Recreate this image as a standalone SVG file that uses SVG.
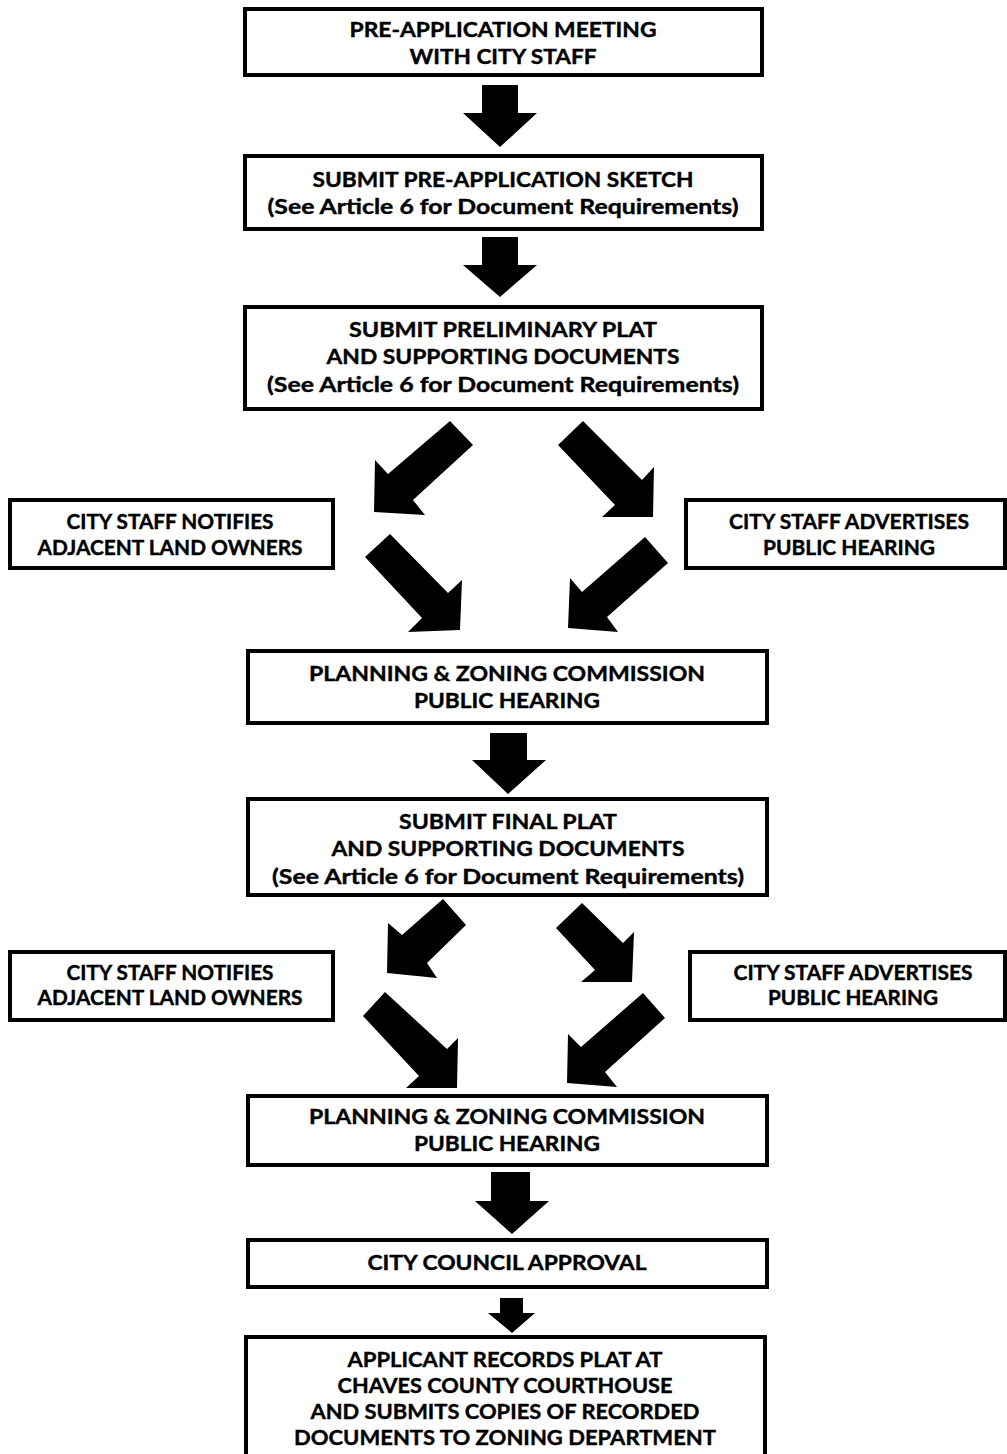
<svg xmlns="http://www.w3.org/2000/svg" width="1007" height="1454" viewBox="0 0 1007 1454">
<style>
.box{fill:#fff;stroke:#000;stroke-width:4}
.t{font-family:Lato,"Open Sans","Liberation Sans",sans-serif;font-weight:bold;font-size:21px;fill:#000;stroke:#000;stroke-width:0.4;text-anchor:middle}
.s{font-size:20px}
.arr{fill:#000}
</style>
<rect width="1007" height="1454" fill="#fff"/>
<g id="connectors">
<polygon class="arr" points="482,85 518,85 518,113 537,113 500,147 463,113 482,113"/>
<polygon class="arr" points="482,237 518,237 518,265 537,265 500,297 463,265 482,265"/>
<polygon class="arr" points="450,421 473,445 413,500 425,515 374,512 375,460 388,474"/>
<polygon class="arr" points="583,421 558,445 615,505 602,517 653,517 654,467 642,480"/>
<polygon class="arr" points="390,534 365,557 422,618 408,632 460,630 462,580 448,593"/>
<polygon class="arr" points="645,537 668,563 607,617 618,632 568,628 570,578 582,592"/>
<polygon class="arr" points="490,733 527,733 527,760 546,760 508,794 472,760 490,760"/>
<polygon class="arr" points="443,899 466,925 427,963 437,978 387,973 388,923 402,935"/>
<polygon class="arr" points="582,903 556,928 595,970 581,982 632,982 634,932 623,943"/>
<polygon class="arr" points="385,992 363,1016 419,1076 406,1088 457,1088 458,1038 447,1049"/>
<polygon class="arr" points="643,993 665,1018 605,1072 617,1087 567,1083 568,1034 581,1047"/>
<polygon class="arr" points="491,1172 530,1172 530,1201 549,1201 512,1234 475,1201 491,1201"/>
<polygon class="arr" points="500,1298 523,1298 523,1313 535,1313 512,1333 488,1313 500,1313"/>
</g>
<g id="pre-app-meeting">
<rect class="box" x="245" y="9" width="517" height="66"/>
<text class="t" x="503" y="37" textLength="307" lengthAdjust="spacingAndGlyphs">PRE-APPLICATION MEETING</text>
<text class="t" x="503" y="64" textLength="187" lengthAdjust="spacingAndGlyphs">WITH CITY STAFF</text>
</g>
<g id="submit-sketch">
<rect class="box" x="245" y="156" width="517" height="73"/>
<text class="t" x="503" y="187" textLength="381" lengthAdjust="spacingAndGlyphs">SUBMIT PRE-APPLICATION SKETCH</text>
<text class="t" x="503" y="214" textLength="471" lengthAdjust="spacingAndGlyphs">(See Article 6 for Document Requirements)</text>
</g>
<g id="submit-preliminary">
<rect class="box" x="245" y="307" width="517" height="102"/>
<text class="t" x="503" y="337" textLength="308" lengthAdjust="spacingAndGlyphs">SUBMIT PRELIMINARY PLAT</text>
<text class="t" x="503" y="364" textLength="353" lengthAdjust="spacingAndGlyphs">AND SUPPORTING DOCUMENTS</text>
<text class="t" x="503" y="392" textLength="472" lengthAdjust="spacingAndGlyphs">(See Article 6 for Document Requirements)</text>
</g>
<g id="notify-1">
<rect class="box" x="10" y="500" width="323" height="68"/>
<text class="t s" x="170" y="529" textLength="207" lengthAdjust="spacingAndGlyphs">CITY STAFF NOTIFIES</text>
<text class="t s" x="170" y="555" textLength="265" lengthAdjust="spacingAndGlyphs">ADJACENT LAND OWNERS</text>
</g>
<g id="advertise-1">
<rect class="box" x="686" y="500" width="319" height="68"/>
<text class="t s" x="849" y="529" textLength="240" lengthAdjust="spacingAndGlyphs">CITY STAFF ADVERTISES</text>
<text class="t s" x="849" y="555" textLength="172" lengthAdjust="spacingAndGlyphs">PUBLIC HEARING</text>
</g>
<g id="pz-hearing-1">
<rect class="box" x="248" y="651" width="519" height="72"/>
<text class="t" x="507" y="681" textLength="396" lengthAdjust="spacingAndGlyphs">PLANNING &amp; ZONING COMMISSION</text>
<text class="t" x="507" y="708" textLength="186" lengthAdjust="spacingAndGlyphs">PUBLIC HEARING</text>
</g>
<g id="submit-final">
<rect class="box" x="248" y="799" width="519" height="96"/>
<text class="t" x="508" y="829" textLength="218" lengthAdjust="spacingAndGlyphs">SUBMIT FINAL PLAT</text>
<text class="t" x="508" y="856" textLength="353" lengthAdjust="spacingAndGlyphs">AND SUPPORTING DOCUMENTS</text>
<text class="t" x="508" y="884" textLength="472" lengthAdjust="spacingAndGlyphs">(See Article 6 for Document Requirements)</text>
</g>
<g id="notify-2">
<rect class="box" x="10" y="952" width="323" height="68"/>
<text class="t s" x="170" y="980" textLength="207" lengthAdjust="spacingAndGlyphs">CITY STAFF NOTIFIES</text>
<text class="t s" x="170" y="1005" textLength="265" lengthAdjust="spacingAndGlyphs">ADJACENT LAND OWNERS</text>
</g>
<g id="advertise-2">
<rect class="box" x="690" y="952" width="315" height="68"/>
<text class="t s" x="853" y="980" textLength="239" lengthAdjust="spacingAndGlyphs">CITY STAFF ADVERTISES</text>
<text class="t s" x="853" y="1005" textLength="170" lengthAdjust="spacingAndGlyphs">PUBLIC HEARING</text>
</g>
<g id="pz-hearing-2">
<rect class="box" x="248" y="1096" width="519" height="69"/>
<text class="t" x="507" y="1124" textLength="396" lengthAdjust="spacingAndGlyphs">PLANNING &amp; ZONING COMMISSION</text>
<text class="t" x="507" y="1151" textLength="186" lengthAdjust="spacingAndGlyphs">PUBLIC HEARING</text>
</g>
<g id="council-approval">
<rect class="box" x="248" y="1240" width="519" height="47"/>
<text class="t" x="507" y="1270" textLength="279" lengthAdjust="spacingAndGlyphs">CITY COUNCIL APPROVAL</text>
</g>
<g id="record-plat">
<rect class="box" x="246" y="1337" width="519" height="140"/>
<text class="t" x="505" y="1367" textLength="315" lengthAdjust="spacingAndGlyphs">APPLICANT RECORDS PLAT AT</text>
<text class="t" x="505" y="1393" textLength="335" lengthAdjust="spacingAndGlyphs">CHAVES COUNTY COURTHOUSE</text>
<text class="t" x="505" y="1419" textLength="389" lengthAdjust="spacingAndGlyphs">AND SUBMITS COPIES OF RECORDED</text>
<text class="t" x="505" y="1445" textLength="422" lengthAdjust="spacingAndGlyphs">DOCUMENTS TO ZONING DEPARTMENT</text>
</g>
</svg>
